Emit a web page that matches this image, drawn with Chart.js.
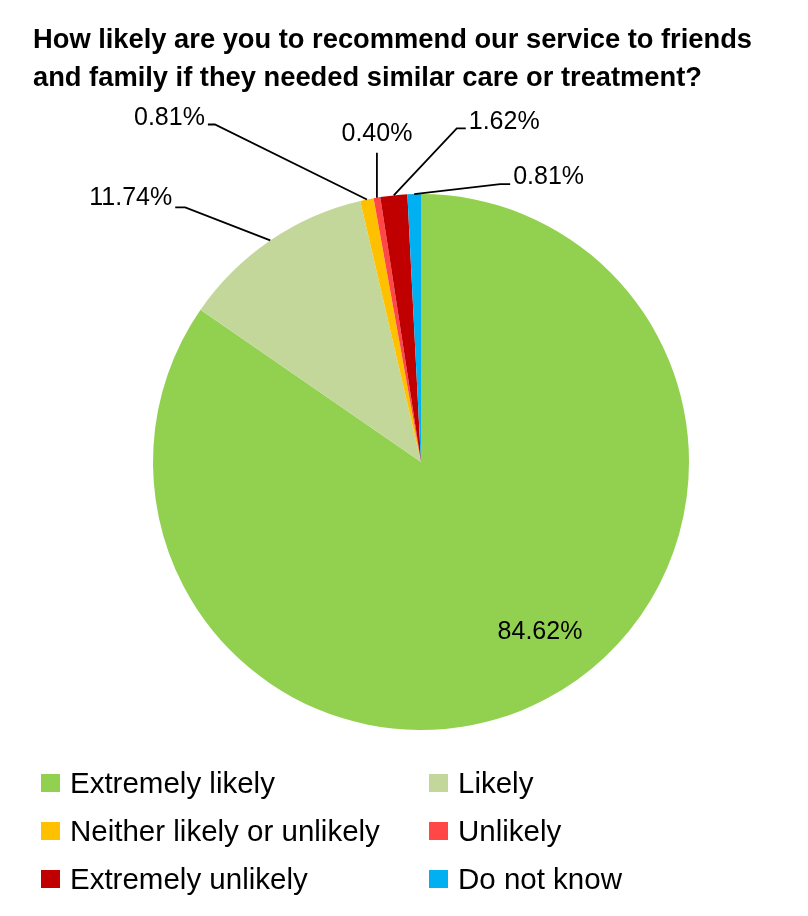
<!DOCTYPE html>
<html>
<head>
<meta charset="utf-8">
<script src="https://cdn.jsdelivr.net/npm/chart.js@4.4.1/dist/chart.umd.min.js"></script>
<style>
    html, body { margin: 0; padding: 0; background: #fff; }
    #wrap { position: relative; width: 808px; height: 916px; overflow: hidden; }
    #title {
        position: absolute; left: 33px; top: 20px;
        font-family: 'Liberation Sans', sans-serif;
        font-weight: bold; font-size: 27.3px; line-height: 38px; color: #000;
    }
    #legend { position: absolute; left: 0; top: 0; }
    .lg-item {
        position: absolute; height: 30px; white-space: nowrap;
        font-family: 'Liberation Sans', sans-serif;
        font-size: 29.5px; line-height: 30px; color: #000;
    }
    .lg-box { position: absolute; left: 0; top: 6px; width: 19px; height: 18px; }
    .lg-text { position: absolute; left: 29px; top: 0; }
    canvas { position: absolute; left: 0; top: 0; }
</style>
</head>
<body>
<div id="wrap">
    <canvas id="pieChart" width="808" height="916"></canvas>
    <div id="title">How likely are you to recommend our service to friends<br>and family if they needed similar care or treatment?</div>
    <div id="legend"></div>
</div>
<script>
// Chart data
const categories = ['Extremely likely', 'Likely', 'Neither likely or unlikely', 'Unlikely', 'Extremely unlikely', 'Do not know'];
const percentages = [84.62, 11.74, 0.81, 0.40, 1.62, 0.81];
const percentLabels = ['84.62%', '11.74%', '0.81%', '0.40%', '1.62%', '0.81%'];
const sliceColors = ['#92D050', '#C4D79B', '#FFC000', '#FF4747', '#C00000', '#00B0F0'];

// Label placement (offsets from the slice's outer mid point), Excel style leader lines
// inside: label drawn inside the slice, offset from the pie centre
const labelLayout = [
    { inside: true, dx: 119, dy: 170 },
    { elbow: [-85, -33], tail: -10, align: 'right', ty: -9 },
    { elbow: [-152, -75], tail: -7, align: 'right', ty: -6 },
    { elbow: [0, -45], tail: 0, align: 'center', ty: -19 },
    { elbow: [63, -67], tail: 9, align: 'left', ty: -6 },
    { elbow: [86, -10], tail: 10, align: 'left', ty: -7 }
];

const FONT = "'Liberation Sans', sans-serif";

const dataLabels = {
    id: 'dataLabels',
    afterDatasetsDraw(chart) {
        const ctx = chart.ctx;
        const meta = chart.getDatasetMeta(0);
        ctx.save();
        ctx.font = '25px ' + FONT;
        ctx.fillStyle = '#000';
        ctx.strokeStyle = '#000';
        ctx.lineWidth = 1.8;
        ctx.textBaseline = 'middle';
        meta.data.forEach((arc, i) => {
            const lay = labelLayout[i];
            const p = arc.getProps(['x', 'y', 'startAngle', 'endAngle', 'outerRadius'], true);
            if (lay.inside) {
                ctx.textAlign = 'center';
                ctx.fillText(percentLabels[i], p.x + lay.dx, p.y + lay.dy);
                return;
            }
            const mid = (p.startAngle + p.endAngle) / 2;
            const ex = p.x + Math.cos(mid) * p.outerRadius;
            const ey = p.y + Math.sin(mid) * p.outerRadius;
            const bx = ex + lay.elbow[0];
            const by = ey + lay.elbow[1];
            const tx = bx + lay.tail;
            ctx.beginPath();
            ctx.moveTo(ex, ey);
            ctx.lineTo(bx, by);
            ctx.lineTo(tx, by);
            ctx.stroke();
            ctx.textAlign = lay.align;
            const gap = lay.align === 'right' ? -3 : (lay.align === 'left' ? 3 : 0);
            ctx.fillText(percentLabels[i], tx + gap, by + lay.ty);
        });
        ctx.restore();
    }
};

const ctx = document.getElementById('pieChart').getContext('2d');
const chart = new Chart(ctx, {
    type: 'pie',
    data: {
        labels: categories,
        datasets: [{
            data: percentages,
            backgroundColor: sliceColors,
            borderWidth: 0
        }]
    },
    options: {
        responsive: false,
        animation: false,
        layout: { padding: { left: 153, right: 119, top: 194, bottom: 186 } },
        plugins: {
            legend: { display: false },
            tooltip: { enabled: false }
        }
    },
    plugins: [dataLabels]
});

// Two column legend below the pie
const legendCols = [41, 429];
const legendRows = [768, 816, 864];
const legendEl = document.getElementById('legend');
categories.forEach((name, i) => {
    const item = document.createElement('div');
    item.className = 'lg-item';
    item.style.left = legendCols[i % 2] + 'px';
    item.style.top = legendRows[Math.floor(i / 2)] + 'px';
    item.innerHTML = `<span class="lg-box" style="background:${sliceColors[i]}"></span><span class="lg-text">${name}</span>`;
    legendEl.appendChild(item);
});
</script>
</body>
</html>
